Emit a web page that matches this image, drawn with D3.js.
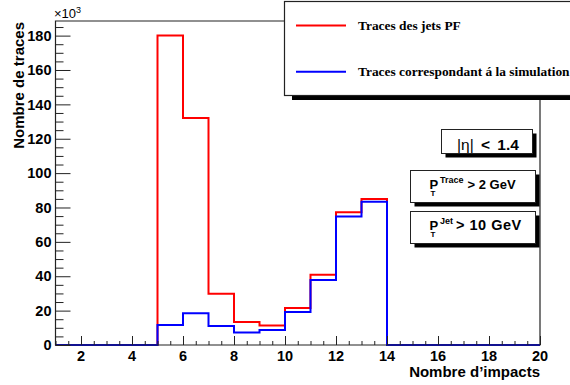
<!DOCTYPE html>
<html>
<head>
<meta charset="utf-8">
<script src="https://cdn.jsdelivr.net/npm/d3@7"></script>
<style>
	body { margin: 0; background: #fff; }
	svg { display: block; }
	text { font-family: 'Liberation Sans', Arial, sans-serif; font-weight: bold; fill: #000; }
	.serif { font-family: 'Liberation Serif', 'Times New Roman', serif; }
</style>
</head>
<body>
<div id="chart"></div>
<script>
// bin low edges (Nombre d'impacts), last edge closes the histogram
var binEdges = [1, 2, 3, 4, 5, 6, 7, 8, 9, 10, 11, 12, 13, 14, 15, 16, 17, 18, 19, 20];
// counts in units of 10^3
var pfTracks = [0, 0, 0, 0, 180, 132, 29.8, 13.4, 11.4, 21.5, 40.9, 77.3, 85, 0, 0, 0, 0, 0, 0];
var simTracks = [0, 0, 0, 0, 11.6, 18.4, 11, 7.2, 8.7, 19.2, 37.8, 74.8, 83.3, 0, 0, 0, 0, 0, 0];
var xTicks = [2, 4, 6, 8, 10, 12, 14, 16, 18, 20];
var yTicks = [0, 20, 40, 60, 80, 100, 120, 140, 160, 180];
var legendLabels = ['Traces des jets PF', 'Traces correspondant á la simulation'];
var colors = ['#ff0000', '#0000ff'];

var W = 570, H = 385;
var margin = { top: 21, right: 30, bottom: 40, left: 55.5 };
var width = W - margin.left - margin.right;
var height = H - margin.top - margin.bottom;

var svg = d3.select('#chart').append('svg')
	.attr('width', W)
	.attr('height', H);

var xScale = d3.scaleLinear().domain([1, 20]).range([0, width]);
var yScale = d3.scaleLinear().domain([0, 188.5]).range([height, 0]);

var g = svg.append('g')
	.attr('transform', 'translate(' + margin.left + ',' + margin.top + ')');

// histograms
function histPoints(counts) {
	var pts = counts.map(function(v, i) {
		return { x: binEdges[i], y: v };
	});
	pts.push({ x: binEdges[binEdges.length - 1], y: counts[counts.length - 1] });
	return pts;
}

var line = d3.line()
	.x(function(d) { return xScale(d.x); })
	.y(function(d) { return yScale(d.y); })
	.curve(d3.curveStepAfter);

[pfTracks, simTracks].forEach(function(series, i) {
	g.append('path')
		.attr('d', line(histPoints(series)))
		.attr('fill', 'none')
		.attr('stroke', colors[i])
		.attr('stroke-width', 2);
});

// frame
g.append('path')
	.attr('d', 'M' + (284 - margin.left) + ',0H0V' + height + 'H' + width + 'V' + (96 - margin.top))
	.attr('fill', 'none')
	.attr('stroke', '#222')
	.attr('stroke-width', 1.2);

// axes
var xAxis = g.append('g')
	.attr('transform', 'translate(0,' + height + ')')
	.call(d3.axisTop(xScale).tickValues(d3.range(1, 20.01, 0.5)).tickSize(4).tickFormat(''));
xAxis.selectAll('.tick line').attr('y2', function(d) { return d % 2 === 0 ? -9 : -4; });
xAxis.select('.domain').remove();
xAxis.selectAll('line').attr('stroke', '#222');

g.append('g')
	.attr('transform', 'translate(0,' + height + ')')
	.selectAll('text')
	.data(xTicks)
	.enter()
	.append('text')
	.attr('x', function(d) { return xScale(d); })
	.attr('y', 16)
	.attr('text-anchor', 'middle')
	.style('font-size', '14.5px')
	.text(function(d) { return d; });

var yAxis = g.append('g')
	.call(d3.axisRight(yScale).tickValues(d3.range(0, 188, 5)).tickSize(8).tickFormat(''));
yAxis.selectAll('.tick line').attr('x2', function(d) { return d % 20 === 0 ? 15 : 8; });
yAxis.select('.domain').remove();
yAxis.selectAll('line').attr('stroke', '#222');

g.append('g')
	.selectAll('text')
	.data(yTicks)
	.enter()
	.append('text')
	.attr('x', -4)
	.attr('y', function(d) { return yScale(d); })
	.attr('dy', '0.36em')
	.attr('text-anchor', 'end')
	.style('font-size', '14.5px')
	.text(function(d) { return d; });

// exponent
var expo = svg.append('text')
	.attr('x', 54)
	.attr('y', 18)
	.style('font-size', '13px')
	.style('font-weight', 'normal');
expo.append('tspan').text('×10');
expo.append('tspan').attr('dy', -5).style('font-size', '9px').text('3');

// axis titles
svg.append('text')
	.attr('transform', 'translate(24,22) rotate(-90)')
	.attr('text-anchor', 'end')
	.style('font-size', '15px')
	.text('Nombre de traces');

svg.append('text')
	.attr('x', 540)
	.attr('y', 377)
	.attr('text-anchor', 'end')
	.style('font-size', '15px')
	.text('Nombre d’impacts');

// legend
var legend = svg.append('g');
legend.append('rect')
	.attr('x', 292).attr('y', 96).attr('width', 290).attr('height', 4)
	.attr('fill', '#000');
legend.append('rect')
	.attr('x', 284.5).attr('y', 1.5).attr('width', 300).attr('height', 94)
	.attr('fill', '#fff').attr('stroke', '#222').attr('stroke-width', 1.2);

legendLabels.forEach(function(label, i) {
	var y = 25.5 + i * 46.3;
	legend.append('line')
		.attr('x1', 296).attr('x2', 346)
		.attr('y1', y).attr('y2', y)
		.attr('stroke', colors[i]).attr('stroke-width', 2);
	legend.append('text')
		.attr('class', 'serif')
		.attr('x', 358)
		.attr('y', y + 4.5)
		.style('font-size', '13.4px')
		.text(label);
});

// cut boxes
function paveBox(x, y, w, h) {
	svg.append('rect')
		.attr('x', x + 4).attr('y', y + 4).attr('width', w).attr('height', h)
		.attr('fill', '#000');
	svg.append('rect')
		.attr('x', x).attr('y', y).attr('width', w).attr('height', h)
		.attr('fill', '#fff').attr('stroke', '#222').attr('stroke-width', 1);
}

paveBox(441.5, 129.5, 91, 24);
paveBox(410.5, 170.5, 125, 32);
paveBox(410.5, 211.5, 125, 32);

var t1 = svg.append('text')
	.attr('x', 457).attr('y', 149.5)
	.style('font-size', '15.5px')
	.style('word-spacing', '3px');
t1.append('tspan').style('font-weight', 'normal').text('|η|');
t1.append('tspan').text(' < 1.4');

function ptLabel(x, y, sup, rest, restX, size, spacing) {
	var t = svg.append('text').attr('x', x).attr('y', y).style('font-size', '13px');
	t.append('tspan').text('P');
	t.append('tspan').attr('x', x + 1).attr('y', y + 7.5).style('font-size', '8px').text('T');
	t.append('tspan').attr('x', x + 10.5).attr('y', y - 5.5).style('font-size', '9px').text(sup);
	t.append('tspan').attr('x', restX).attr('y', y)
		.style('font-size', size + 'px')
		.style('letter-spacing', spacing + 'px')
		.text(rest);
}

ptLabel(429.5, 188.5, 'Trace', '> 2 GeV', 467.5, 13, 0);
ptLabel(429.5, 229.5, 'Jet', '> 10 GeV', 456, 14.5, 0.5);
</script>
</body>
</html>
